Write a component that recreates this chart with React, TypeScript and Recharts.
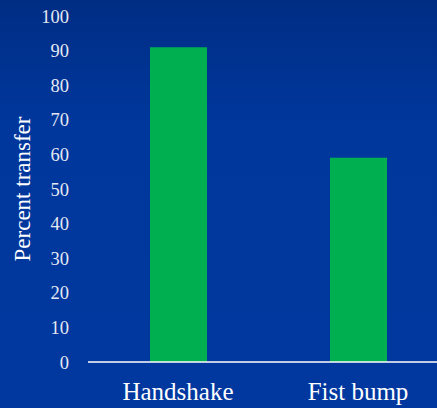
import React from 'react';
import { BarChart, Bar, XAxis, YAxis } from 'recharts';

const categories = ['Handshake', 'Fist bump'];
const transferValues = [91, 59];
const yTicks = [0, 10, 20, 30, 40, 50, 60, 70, 80, 90, 100];

const data = categories.map((name, i) => ({ name, value: transferValues[i] }));

const font = '"Liberation Serif", "DejaVu Serif", serif';

function YLabel() {
  return (
    <text
      x={22}
      y={189}
      transform="rotate(-90 22 189)"
      textAnchor="middle"
      dominantBaseline="central"
      fill="#ffffff"
      style={{ fontFamily: font, fontSize: 23 }}
    >
      Percent transfer
    </text>
  );
}

export default function App() {
  return (
    <div
      style={{
        position: 'absolute',
        left: 0,
        top: 0,
        width: 437,
        height: 408,
        overflow: 'hidden',
        fontFamily: font,
        background: 'linear-gradient(180deg, #002d84 0%, #00379c 30%, #00389f 100%)',
      }}
    >
      <BarChart
        width={448}
        height={408}
        data={data}
        margin={{ top: 16, right: 0, bottom: 0, left: 0 }}
        barCategoryGap={0}
        style={{ fontFamily: font }}
      >
        <XAxis
          dataKey="name"
          height={46}
          axisLine={{ stroke: '#ffffff', strokeWidth: 1.5 }}
          tickLine={false}
          tickSize={0}
          tickMargin={20}
          tick={{ fill: '#ffffff', fontSize: 25, style: { fontFamily: font } }}
        />
        <YAxis
          width={88}
          domain={[0, 100]}
          ticks={yTicks}
          interval={0}
          axisLine={false}
          tickLine={false}
          tickSize={0}
          tickMargin={19}
          tick={{ fill: '#e6e8f2', fontSize: 18.5, style: { fontFamily: font } }}
          label={<YLabel />}
        />
        <Bar dataKey="value" fill="#00b050" barSize={57} isAnimationActive={false} />
      </BarChart>
    </div>
  );
}
